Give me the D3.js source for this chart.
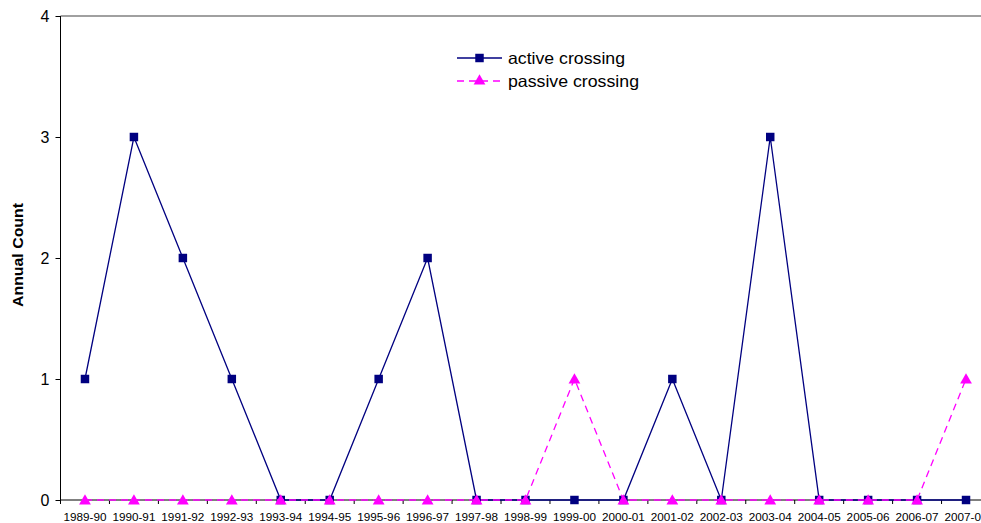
<!DOCTYPE html>
<html><head><meta charset="utf-8">
<script src="https://cdn.jsdelivr.net/npm/d3@7"></script>
<style>body{margin:0;background:#fff}svg{display:block;font-family:Arial,"Liberation Sans",sans-serif}</style>
</head><body><svg id="c" width="981" height="523"></svg>
<script>
const categories = ["1989-90","1990-91","1991-92","1992-93","1993-94","1994-95","1995-96","1996-97","1997-98","1998-99","1999-00","2000-01","2001-02","2002-03","2003-04","2004-05","2005-06","2006-07","2007-08"];
const activeCrossing = [1,3,2,1,0,0,1,2,0,0,0,0,1,0,3,0,0,0,0];
const passiveCrossing = [0,0,0,0,0,0,0,0,0,0,1,0,0,0,0,0,0,0,1];
const yTicks = [0,1,2,3,4];

(function(){
const svg = d3.select("#c");
const pl = 60.5, pr = 990.5, pt = 16, pb = 500;
const x = d3.scaleBand().domain(categories).range([pl, pr]);
const y = d3.scaleLinear().domain([0,4]).range([pb, pt]);
const cx = c => x(c) + x.bandwidth()/2;

svg.append("line").attr("x1",pl).attr("x2",pr).attr("y1",pt).attr("y2",pt).attr("stroke","#808080").attr("stroke-width",1.5);

const ya = svg.append("g").attr("transform",`translate(${pl},0)`)
  .call(d3.axisLeft(y).tickValues(yTicks).tickSize(5).tickPadding(6).tickFormat(d3.format("d")));
ya.select(".domain").attr("stroke","#000").attr("d",`M0,${pt}V${pb}`);
ya.selectAll("text").attr("font-size",16).attr("fill","#000").attr("font-family","Arial,'Liberation Sans',sans-serif");
ya.selectAll("line").attr("stroke","#000");

const xa = svg.append("g").attr("transform",`translate(0,${pb})`);
xa.append("line").attr("x1",pl).attr("x2",pr).attr("stroke","#000");
const bounds = categories.map(c => x(c)).concat([pr]);
xa.selectAll("line.t").data(bounds).enter().append("line").attr("class","t")
  .attr("x1",d=>d).attr("x2",d=>d).attr("y1",0).attr("y2",4).attr("stroke","#000");
xa.selectAll("text").data(categories).enter().append("text")
  .attr("x",d=>cx(d)).attr("y",21).attr("text-anchor","middle").attr("font-size",10.5).attr("fill","#000")
  .attr("textLength",43).attr("lengthAdjust","spacingAndGlyphs").text(d=>d);

svg.append("text").attr("transform",`translate(23,255) rotate(-90)`)
  .attr("text-anchor","middle").attr("font-size",15).attr("font-weight","bold")
  .attr("textLength",104).attr("lengthAdjust","spacingAndGlyphs").text("Annual Count");

const line = d3.line().x((d,i)=>cx(categories[i])).y(d=>y(d));
const sq = d3.symbol().type(d3.symbolSquare).size(72);
const tri = d3.symbol().type(d3.symbolTriangle).size(60);

svg.append("path").datum(activeCrossing).attr("d",line).attr("fill","none").attr("stroke","#000080").attr("stroke-width",1.3);
svg.selectAll("path.a").data(activeCrossing).enter().append("path").attr("class","a")
  .attr("transform",(d,i)=>`translate(${cx(categories[i])},${y(d)})`).attr("d",sq).attr("fill","#000080");

svg.append("path").datum(passiveCrossing).attr("d",line).attr("fill","none").attr("stroke","#FF00FF").attr("stroke-width",1.3).attr("stroke-dasharray","7,5");
svg.selectAll("path.p").data(passiveCrossing).enter().append("path").attr("class","p")
  .attr("transform",(d,i)=>`translate(${cx(categories[i])},${y(d)+1})`).attr("d",tri).attr("fill","#FF00FF");

const lg = svg.append("g");
const items = [{name:"active crossing",color:"#000080",dash:null,sym:sq,y:58,w:117},{name:"passive crossing",color:"#FF00FF",dash:"7,5",sym:tri,y:81,w:131}];
items.forEach(it=>{
  lg.append("line").attr("x1",457).attr("x2",502).attr("y1",it.y).attr("y2",it.y).attr("stroke",it.color).attr("stroke-width",1.3).attr("stroke-dasharray",it.dash);
  lg.append("path").attr("transform",`translate(479.5,${it.y})`).attr("d",it.sym).attr("fill",it.color);
  lg.append("text").attr("x",508).attr("y",it.y+6).attr("font-size",16.5).attr("fill","#000")
    .attr("textLength",it.w).attr("lengthAdjust","spacingAndGlyphs").text(it.name);
});
})();
</script></body></html>
